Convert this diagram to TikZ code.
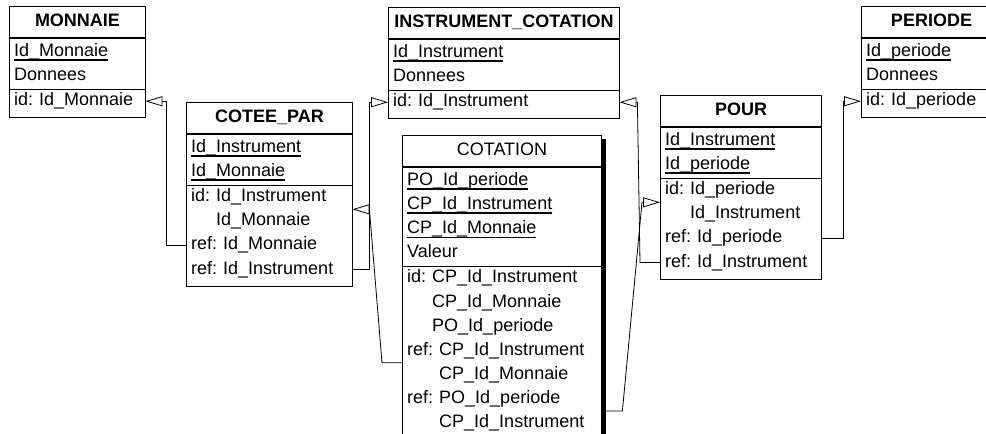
\documentclass[tikz,border=0pt]{standalone}
\usepackage{fontspec}
\setmainfont{Liberation Sans}
\usetikzlibrary{arrows.meta, positioning, calc, fit, backgrounds}
\newcommand{\erfont}{\fontsize{18}{23.7}\selectfont\frenchspacing}
\newcommand{\pkey}[1]{\setbox0\hbox{#1}\rlap{\rule[-4.8pt]{\wd0}{1.5pt}}\box0}

\begin{document}
\begin{tikzpicture}[
    x=1pt, y=-1pt,
    head/.style={draw, line width=1pt, anchor=north west, minimum width=#1,
                 minimum height=31pt, inner sep=0, text height=13pt,
                 text depth=4pt, font=\erfont\bfseries},
    field/.style={anchor=north west, text width=#1, inner xsep=5pt,
                  inner ysep=0, minimum height=23.7pt, text height=13pt,
                  text depth=4pt, align=left, font=\erfont},
    sect/.style={draw, line width=1pt, inner xsep=0, inner ysep=1.5pt},
    csect/.style={draw, line width=1pt, inner xsep=0, inner ysep=2.25pt,
                  yshift=-2.25pt},
    fk/.style={-{Triangle[open, length=17pt, width=10pt]}, line width=0.8pt}
  ]
  \useasboundingbox (0,0) rectangle (986,434);

  % MONNAIE
  \node[head=136pt] (mon) at (9,6) {MONNAIE};
  \node[field=126pt, below right=1.5pt and 0pt of mon.south west] (mon1) {\pkey{Id\_Monnaie}};
  \node[field=126pt, below=0pt of mon1] (mon2) {Donnees};
  \node[field=126pt, below=1.5pt of mon2] (mon3) {id: Id\_Monnaie};
  \node[sect, fit=(mon1)(mon2)] (mona) {};
  \node[csect, fit=(mon3)] (monc) {};

  % COTEE_PAR
  \node[head=166pt] (cp) at (186,102) {COTEE\_PAR};
  \node[field=156pt, below right=1.5pt and 0pt of cp.south west] (cp1) {\pkey{Id\_Instrument}};
  \node[field=156pt, below=0pt of cp1] (cp2) {\pkey{Id\_Monnaie}};
  \node[field=156pt, below=1.5pt of cp2] (cp3) {id: Id\_Instrument};
  \node[field=156pt, below=0pt of cp3] (cp4) {\phantom{id: }Id\_Monnaie};
  \node[field=156pt, below=0pt of cp4] (cp5) {ref: Id\_Monnaie};
  \node[field=156pt, below=0pt of cp5] (cp6) {ref: Id\_Instrument};
  \node[sect, fit=(cp1)(cp2)] (cpa) {};
  \node[csect, fit=(cp3)(cp6)] (cpc) {};

  % INSTRUMENT_COTATION
  \node[head=231pt] (ic) at (388,7) {INSTRUMENT\_COTATION};
  \node[field=221pt, below right=1.5pt and 0pt of ic.south west] (ic1) {\pkey{Id\_Instrument}};
  \node[field=221pt, below=0pt of ic1] (ic2) {Donnees};
  \node[field=221pt, below=1.5pt of ic2] (ic3) {id: Id\_Instrument};
  \node[sect, fit=(ic1)(ic2)] (ica) {};
  \node[csect, fit=(ic3)] (icc) {};

  % COTATION
  \node[head=199pt, font=\erfont] (cot) at (402,135) {COTATION};
  \node[field=189pt, below right=1.5pt and 0pt of cot.south west] (cot1) {\pkey{PO\_Id\_periode}};
  \node[field=189pt, below=0pt of cot1] (cot2) {\pkey{CP\_Id\_Instrument}};
  \node[field=189pt, below=0pt of cot2] (cot3) {\pkey{CP\_Id\_Monnaie}};
  \node[field=189pt, below=0pt of cot3] (cot4) {Valeur};
  \node[field=189pt, below=1.5pt of cot4] (cot5) {id: CP\_Id\_Instrument};
  \node[field=189pt, below=0pt of cot5] (cot6) {\phantom{id: }CP\_Id\_Monnaie};
  \node[field=189pt, below=0pt of cot6] (cot7) {\phantom{id: }PO\_Id\_periode};
  \node[field=189pt, below=0pt of cot7] (cot8) {ref: CP\_Id\_Instrument};
  \node[field=189pt, below=0pt of cot8] (cot9) {\phantom{ref: }CP\_Id\_Monnaie};
  \node[field=189pt, below=0pt of cot9] (cot10) {ref: PO\_Id\_periode};
  \node[field=189pt, below=0pt of cot10] (cot11) {\phantom{ref: }CP\_Id\_Instrument};
  \node[sect, fit=(cot1)(cot4)] (cota) {};
  \node[csect, fit=(cot5)(cot11)] (cotc) {};
  \begin{scope}[on background layer]
    \fill ([shift={(4,4)}]cot.north west) rectangle ([shift={(4,4)}]cotc.south east);
    \fill[white] (cot.north west) rectangle (cotc.south east);
  \end{scope}

  % POUR
  \node[head=161pt] (pr) at (660,95) {POUR};
  \node[field=151pt, below right=1.5pt and 0pt of pr.south west] (pr1) {\pkey{Id\_Instrument}};
  \node[field=151pt, below=0pt of pr1] (pr2) {\pkey{Id\_periode}};
  \node[field=151pt, below=1.5pt of pr2] (pr3) {id: Id\_periode};
  \node[field=151pt, below=0pt of pr3] (pr4) {\phantom{id: }Id\_Instrument};
  \node[field=151pt, below=0pt of pr4] (pr5) {ref: Id\_periode};
  \node[field=151pt, below=0pt of pr5] (pr6) {ref: Id\_Instrument};
  \node[sect, fit=(pr1)(pr2)] (pra) {};
  \node[csect, fit=(pr3)(pr6)] (prc) {};

  % PERIODE
  \node[head=140pt] (pe) at (861,6) {PERIODE};
  \node[field=130pt, below right=1.5pt and 0pt of pe.south west] (pe1) {\pkey{Id\_periode}};
  \node[field=130pt, below=0pt of pe1] (pe2) {Donnees};
  \node[field=130pt, below=1.5pt of pe2] (pe3) {id: Id\_periode};
  \node[sect, fit=(pe1)(pe2)] (pea) {};
  \node[csect, fit=(pe3)] (pec) {};

  % references
  \draw[fk] (cp5.west) -- ++(-20,0) |- (mon3.east);
  \draw[fk] (cp6.east) -- ++(17,0) |- (ic3.west);
  \draw[fk] ($(cot8.west)!.5!(cot9.west)$) -- ++(-20,0)
    -- ($(cp3.east)!.5!(cp4.east)+(17,0)$) -- ($(cp3.east)!.5!(cp4.east)$);
  \draw[fk] ($(cot10.east)!.5!(cot11.east)$) -- ++(21,0)
    -- ($(pr3.west)!.5!(pr4.west)+(-18,0)$) -- ($(pr3.west)!.5!(pr4.west)$);
  \draw[fk] (pr6.west) -- ++(-20,0) -- ($(ic3.east)+(18,0)$) -- (ic3.east);
  \draw[fk] (pr5.east) -- ++(22,0) |- (pe3.west);
\end{tikzpicture}
\end{document}
